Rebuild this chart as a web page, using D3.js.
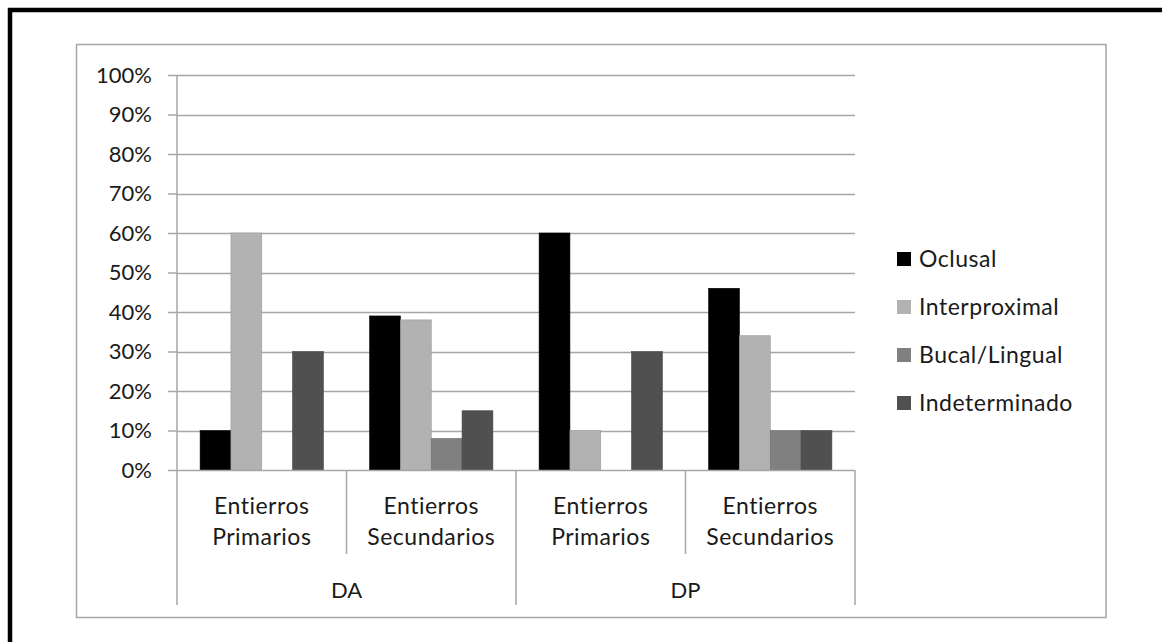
<!DOCTYPE html>
<html>
<head>
<meta charset="utf-8">
<script src="https://cdn.jsdelivr.net/npm/d3@7"></script>
<style>
  html, body { margin: 0; padding: 0; background: #fff; }
  svg { display: block; }
  text { font-family: Lato, "Open Sans", sans-serif; fill: #1a1a1a; }
  .lbl { letter-spacing: 0.5px; }
</style>
</head>
<body>
<svg id="chart" width="1162" height="642"></svg>
<script>
// Caries location by burial type, for the DA and DP samples
const groups = ["DA", "DP"];
const burials = [["Entierros", "Primarios"], ["Entierros", "Secundarios"]];
const series = ["Oclusal", "Interproximal", "Bucal/Lingual", "Indeterminado"];
const colors = ["#000000", "#b2b2b2", "#808080", "#505050"];

// percentages, one array per series, in order DA-Prim, DA-Sec, DP-Prim, DP-Sec
const oclusal       = [10, 39, 60, 46];
const interproximal = [60, 38, 10, 34];
const bucalLingual  = [0, 8, 0, 10];
const indeterminado = [30, 15, 30, 10];
const yTicks = [0, 10, 20, 30, 40, 50, 60, 70, 80, 90, 100];

const values = [oclusal, interproximal, bucalLingual, indeterminado];
const cells = [];
groups.forEach((g, gi) => burials.forEach((b, bi) => cells.push({ key: g + bi, group: g, label: b, idx: gi * 2 + bi })));

const svg = d3.select("#chart");
const gridColor = "#a6a6a6";

// outer frame (top and left edges)
svg.append("line").attr("x1", 8).attr("x2", 1162).attr("y1", 10).attr("y2", 10)
  .attr("stroke", "#000").attr("stroke-width", 4.5);
svg.append("line").attr("x1", 10).attr("x2", 10).attr("y1", 8).attr("y2", 642)
  .attr("stroke", "#000").attr("stroke-width", 4.5);

// chart area border
svg.append("rect").attr("x", 76.5).attr("y", 44.5).attr("width", 1029.5).attr("height", 573)
  .attr("fill", "none").attr("stroke", gridColor).attr("stroke-width", 1.5);

const plot = { left: 177, right: 855, top: 75, bottom: 470 };

const y = d3.scaleLinear().domain([0, 100]).range([plot.bottom, plot.top]);
const x0 = d3.scaleBand().domain(cells.map(c => c.key)).range([plot.left, plot.right]).padding(0);
const x1 = d3.scaleBand().domain(series).range([0, x0.bandwidth()]).paddingInner(0).paddingOuter(0.75);

// gridlines
svg.append("g").selectAll("line").data(yTicks.filter(t => t > 0)).join("line")
  .attr("x1", plot.left).attr("x2", plot.right)
  .attr("y1", d => Math.round(y(d)) + 0.5).attr("y2", d => Math.round(y(d)) + 0.5)
  .attr("stroke", gridColor).attr("stroke-width", 1.5);

// bars
const barG = svg.append("g");
cells.forEach(c => {
  barG.append("g").attr("transform", `translate(${x0(c.key)},0)`)
    .selectAll("rect").data(series.map((s, si) => ({ s, si, v: values[si][c.idx] })).filter(d => d.v > 0))
    .join("rect")
    .attr("x", d => x1(d.s)).attr("width", x1.bandwidth())
    .attr("y", d => y(d.v)).attr("height", d => y(0) - y(d.v))
    .attr("fill", d => colors[d.si])
    .attr("stroke", d => d3.color(colors[d.si]).darker(0.4)).attr("stroke-width", 0.6);
});

// y axis
const yAxis = svg.append("g").attr("transform", `translate(${plot.left},0)`)
  .call(d3.axisLeft(y).tickValues(yTicks).tickSize(9).tickPadding(16).tickFormat(d => d + "%"));
yAxis.select(".domain").remove();
yAxis.selectAll(".tick line").attr("stroke", gridColor).attr("stroke-width", 1.5);
yAxis.selectAll(".tick text").attr("font-size", 22).attr("fill", "#1a1a1a")
  .attr("font-family", "Lato, sans-serif");

// category axis lines
const axG = svg.append("g").attr("stroke", gridColor).attr("stroke-width", 1.5);
axG.append("line").attr("x1", plot.left).attr("x2", plot.left).attr("y1", plot.top).attr("y2", 605);
axG.append("line").attr("x1", plot.left).attr("x2", plot.right).attr("y1", plot.bottom + 0.5).attr("y2", plot.bottom + 0.5);
cells.forEach((c, i) => {
  const xr = x0(c.key) + x0.bandwidth();
  const long = (i % 2 === 1);
  axG.append("line").attr("x1", xr).attr("x2", xr).attr("y1", plot.bottom).attr("y2", long ? 605 : 554);
});

// inner category labels
const lab = svg.append("g");
cells.forEach(c => {
  const cx = x0(c.key) + x0.bandwidth() / 2;
  const t = lab.append("text").attr("class", "lbl").attr("text-anchor", "middle").attr("font-size", 23);
  t.append("tspan").attr("x", cx).attr("y", 514).text(c.label[0]);
  t.append("tspan").attr("x", cx).attr("y", 545).text(c.label[1]);
});

// outer group labels
groups.forEach(g => {
  const a = x0(g + 0), b = x0(g + 1) + x0.bandwidth();
  lab.append("text").attr("x", (a + b) / 2).attr("y", 598).attr("text-anchor", "middle")
    .attr("font-size", 22).text(g);
});

// legend
const legend = svg.append("g").attr("transform", "translate(897,0)");
series.forEach((s, i) => {
  const cy = 259 + i * 48;
  legend.append("rect").attr("x", 0).attr("y", cy - 7).attr("width", 14).attr("height", 14)
    .attr("fill", colors[i]);
  legend.append("text").attr("class", "lbl").attr("x", 22).attr("y", cy + 8).attr("font-size", 23).text(s);
});
</script>
</body>
</html>
